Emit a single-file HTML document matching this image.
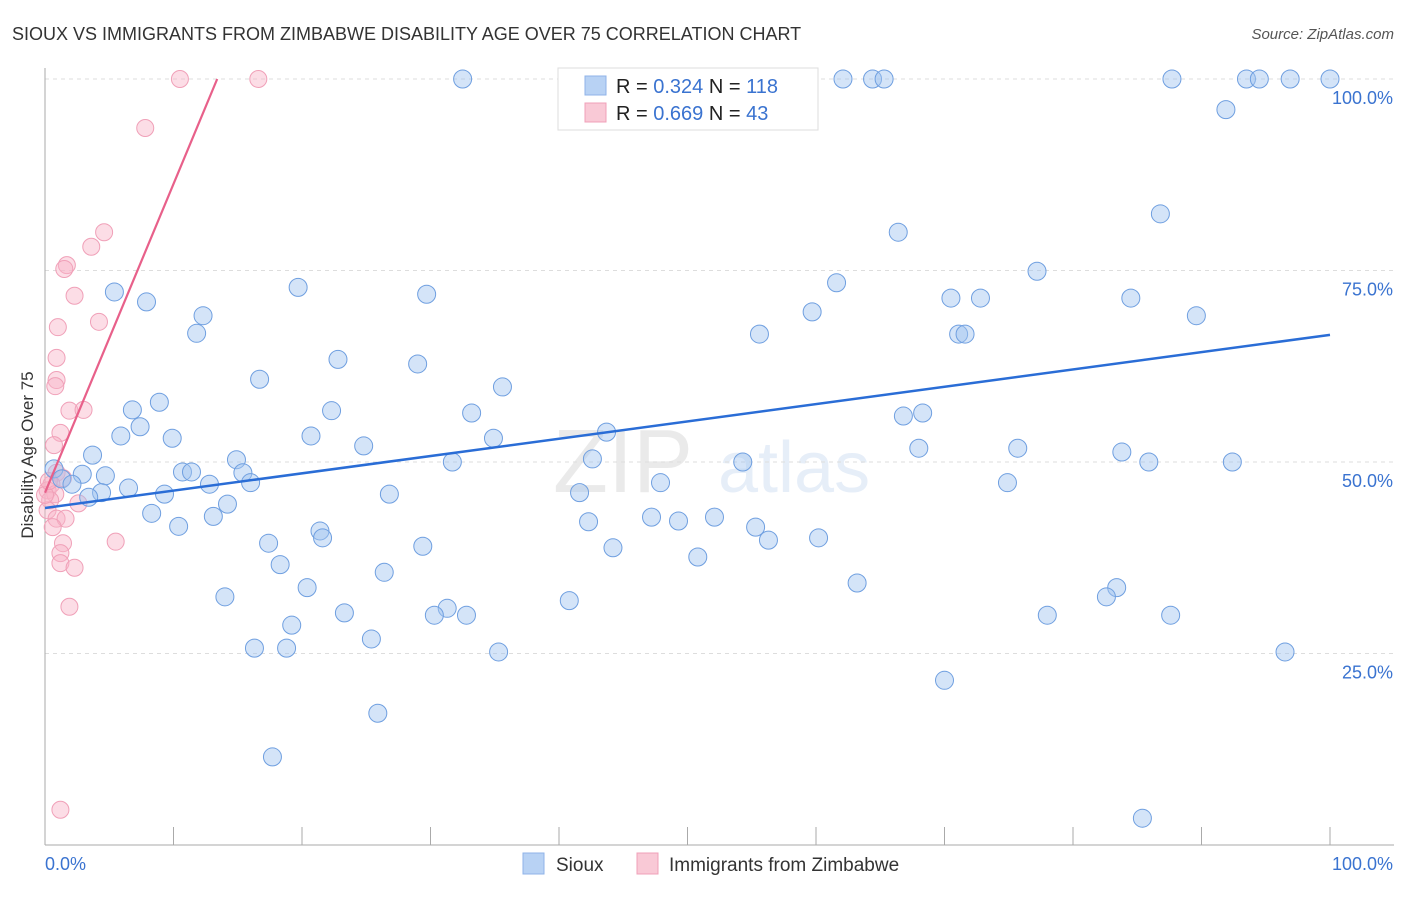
<!DOCTYPE html>
<html><head><meta charset="utf-8"><style>
body{margin:0;background:#fff;font-family:"Liberation Sans",sans-serif}
svg text{font-family:"Liberation Sans",sans-serif}
</style></head><body>
<svg id="chart" width="1406" height="892" xmlns="http://www.w3.org/2000/svg">
<text x="12" y="40" font-size="18" fill="#333">SIOUX VS IMMIGRANTS FROM ZIMBABWE DISABILITY AGE OVER 75 CORRELATION CHART</text>
<text x="1394" y="39" font-size="15" fill="#555" font-style="italic" text-anchor="end">Source: ZipAtlas.com</text>
<g opacity="0.13"><text x="553" y="492" font-size="90" font-family="Liberation Serif" fill="#666">ZIP</text><text x="718" y="492" font-size="72" fill="#4a7fd0">atlas</text></g>
<g id="grid"></g>
<g id="axes"></g>
<g id="pinkpts"></g>
<g id="bluepts"></g>
<g id="trends"></g>
<text transform="translate(33,455) rotate(-90)" font-size="17" fill="#333" text-anchor="middle">Disability Age Over 75</text>
<g>
<rect x="558" y="68" width="260" height="62" fill="#fff" stroke="#ddd"/>
<rect x="585" y="76" width="21" height="19" fill="#b8d2f4" stroke="#8fb3e8"/>
<rect x="585" y="103" width="21" height="19" fill="#f9c9d6" stroke="#f0a0b8"/>
<text x="616" y="93" font-size="20" fill="#222">R = <tspan fill="#3a73d0">0.324</tspan>   N = <tspan fill="#3a73d0">118</tspan></text>
<text x="616" y="120" font-size="20" fill="#222">R = <tspan fill="#3a73d0">0.669</tspan>   N = <tspan fill="#3a73d0"> 43</tspan></text>
</g>
<g>
<rect x="523" y="853" width="21" height="21" fill="#b8d2f4" stroke="#8fb3e8"/>
<text x="556" y="871" font-size="19" fill="#333">Sioux</text>
<rect x="637" y="853" width="21" height="21" fill="#f9c9d6" stroke="#f0a0b8"/>
<text x="669" y="871" font-size="19" fill="#333">Immigrants from Zimbabwe</text>
</g>
</svg>
<script>
const blueX=[32.5,45.4,62.1,64.4,65.3,87.7,93.5,94.5,96.9,100,91.9,86.8,66.4,77.2,61.6,19.7,5.4,29.7,7.9,70.5,72.8,84.5,59.7,89.6,12.3,11.8,55.6,71.1,71.6,22.8,29.0,16.7,35.6,8.9,6.8,22.3,33.2,66.8,68.3,7.4,5.9,43.7,20.7,9.9,34.9,24.8,68.0,75.7,83.8,3.7,14.9,42.6,54.3,31.7,85.9,92.4,0.7,2.9,4.7,10.7,11.4,15.4,1.3,2.1,12.8,16.0,47.9,74.9,6.5,4.4,3.4,9.3,26.8,41.6,14.2,8.3,13.1,47.2,49.3,52.1,10.4,42.3,55.3,21.4,21.6,56.3,60.2,17.4,29.4,44.2,50.8,18.3,26.4,63.2,20.4,83.4,82.6,14.0,40.8,31.3,30.3,32.8,23.3,78.0,87.6,19.2,25.4,16.3,18.8,35.3,96.5,70.0,25.9,17.7,85.4];
const blueY=[100,100,100,100,100,100,100,100,100,100,96,82.4,80,74.9,73.4,72.8,72.2,71.9,70.9,71.4,71.4,71.4,69.6,69.1,69.1,66.8,66.7,66.7,66.7,63.4,62.8,60.8,59.8,57.8,56.8,56.7,56.4,56.0,56.4,54.6,53.4,53.9,53.4,53.1,53.1,52.1,51.8,51.8,51.3,50.9,50.3,50.4,50.0,50.0,50.0,50.0,49.1,48.4,48.2,48.7,48.7,48.6,47.8,47.1,47.1,47.3,47.3,47.3,46.6,46.0,45.4,45.8,45.8,46.0,44.5,43.3,42.9,42.8,42.3,42.8,41.6,42.2,41.5,41.0,40.1,39.8,40.1,39.4,39.0,38.8,37.6,36.6,35.6,34.2,33.6,33.6,32.4,32.4,31.9,30.9,30.0,30.0,30.3,30.0,30.0,28.7,26.9,25.7,25.7,25.2,25.2,21.5,17.2,11.5,3.5];
const pinkX=[10.5,16.6,7.8,4.6,3.6,1.7,1.5,2.3,4.2,1.0,0.9,0.9,0.8,1.9,3.0,1.2,0.7,0.9,1.4,0.5,0.2,0.8,0.4,2.6,0.2,0.9,1.6,0.6,1.4,5.5,1.2,1.2,2.3,1.9,1.2,0,0.3];
const pinkY=[100,100,93.6,80,78.1,75.7,75.2,71.7,68.3,67.6,63.6,60.7,59.9,56.7,56.8,53.8,52.2,48.6,47.9,47.1,46.3,45.8,45.0,44.6,43.7,42.6,42.6,41.5,39.4,39.6,38.1,36.8,36.2,31.1,4.6,45.7,47.5];
const blueTrend=[[0,44.0],[100,66.6]];
const pinkTrend=[[0,46.0],[13.4,100]];
const yTicks=[25,50,75,100];
const yTickLabels=["25.0%","50.0%","75.0%","100.0%"];
const xTicks=[10,20,30,40,50,60,70,80,90,100];
const NS="http://www.w3.org/2000/svg";
const sx=v=>45+v*12.85, sy=v=>845-v*7.66;
function mk(t,a,p){const e=document.createElementNS(NS,t);for(const k in a)e.setAttribute(k,a[k]);p.appendChild(e);return e;}
const grid=document.getElementById('grid'),axes=document.getElementById('axes');
yTicks.forEach((v,i)=>{
 const l=mk('line',{x1:45,x2:1394,y1:sy(v),y2:sy(v),stroke:'#ddd','stroke-dasharray':'4,4'},grid);
 
 
 const t=mk('text',{x:1393,y:sy(v)+25,'font-size':18,fill:'#3a73d0','text-anchor':'end'},axes);
 t.textContent=yTickLabels[i];
 
 
});
mk('line',{x1:45,x2:45,y1:68,y2:845,stroke:'#aaa'},axes);
mk('line',{x1:45,x2:1394,y1:845,y2:845,stroke:'#aaa'},axes);
xTicks.forEach(v=>{const l=mk('line',{x1:sx(v),x2:sx(v),y1:827,y2:845,stroke:'#aaa'},axes);
 
 });
let t=mk('text',{x:45,y:870,'font-size':18,fill:'#3a73d0'},axes);t.textContent='0.0%';

t=mk('text',{x:1393,y:870,'font-size':18,fill:'#3a73d0','text-anchor':'end'},axes);t.textContent='100.0%';

const pg=document.getElementById('pinkpts'),bg=document.getElementById('bluepts');
pinkX.forEach((x,i)=>{const c=mk('circle',{cx:sx(x),cy:sy(pinkY[i]),r:8.5,fill:'rgba(248,180,200,0.45)',stroke:'#f0a0b8','stroke-width':1},pg);
 
 });
blueX.forEach((x,i)=>{const c=mk('circle',{cx:sx(x),cy:sy(blueY[i]),r:9,fill:'rgba(160,195,240,0.45)',stroke:'#6f9fe0','stroke-width':1},bg);
 
 });
const tg=document.getElementById('trends');
let l=mk('line',{x1:sx(blueTrend[0][0]),y1:sy(blueTrend[0][1]),x2:sx(blueTrend[1][0]),y2:sy(blueTrend[1][1]),stroke:'#2a6dd6','stroke-width':2.5},tg);


l=mk('line',{x1:sx(pinkTrend[0][0]),y1:sy(pinkTrend[0][1]),x2:sx(pinkTrend[1][0]),y2:sy(pinkTrend[1][1]),stroke:'#e8608a','stroke-width':2.2},tg);


</script>
</body></html>
